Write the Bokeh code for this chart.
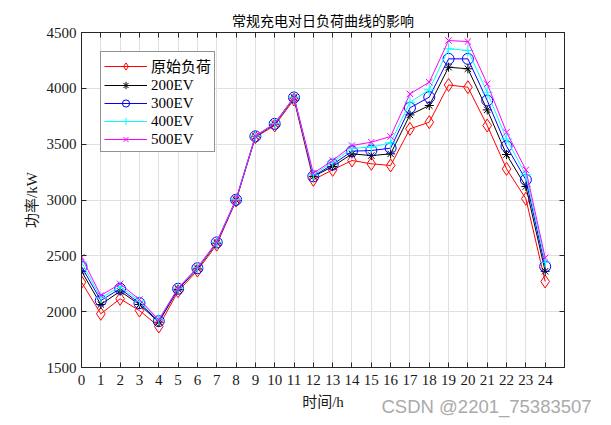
from bokeh.plotting import figure
from bokeh.models import Range1d, FixedTicker, LinearAxis, Legend, Title
from bokeh.embed import file_html
from bokeh.resources import INLINE

hours = list(range(25))
x_ticks = list(range(25))
y_ticks = [1500, 2000, 2500, 3000, 3500, 4000, 4500]

load_orig = [2264, 1981, 2115, 2010, 1867, 2183, 2368, 2600, 2995, 3562, 3667, 3900,
             3181, 3270, 3354, 3324, 3309, 3637, 3697, 4030, 4010, 3667, 3279, 3011, 2270]
load_200 = [2362, 2064, 2183, 2064, 1906, 2200, 2385, 2615, 3000, 3568, 3680, 3915,
            3210, 3300, 3413, 3398, 3413, 3762, 3846, 4189, 4175, 3807, 3407, 3121, 2362]
load_300 = [2404, 2100, 2205, 2076, 1915, 2205, 2389, 2620, 3002, 3570, 3682, 3918,
            3212, 3318, 3437, 3443, 3464, 3825, 3921, 4264, 4264, 3891, 3482, 3181, 2404]
load_400 = [2443, 2124, 2225, 2094, 1927, 2210, 2392, 2622, 3004, 3572, 3684, 3920,
            3225, 3339, 3464, 3473, 3512, 3876, 3987, 4354, 4339, 3965, 3547, 3226, 2443]
load_500 = [2488, 2145, 2249, 2109, 1927, 2212, 2395, 2625, 3006, 3573, 3686, 3922,
            3240, 3354, 3488, 3518, 3569, 3950, 4055, 4428, 4419, 4040, 3607, 3270, 2482]

series_names = ["原始负荷", "200EV", "300EV", "400EV", "500EV"]
series_data = [load_orig, load_200, load_300, load_400, load_500]
colors = ["#ff0000", "#000000", "#0000ff", "#00ffff", "#ff00ff"]
markers = ["diamond", "asterisk", "circle", "cross", "x"]
msizes = [13, 9, 11, 11, 9]

SERIF = "'Liberation Serif', 'Noto Sans CJK SC'"
AX = "#262626"

p = figure(width=611, height=425, output_backend="svg", toolbar_location=None,
           x_range=Range1d(0, 25), y_range=Range1d(1500, 4500),
           min_border_left=81, min_border_right=47, min_border_top=32, min_border_bottom=58)

p.title.text = "常规充电对日负荷曲线的影响"
p.title.text_font = "'Noto Sans CJK SC'"
p.title.text_font_size = "14px"
p.title.text_font_style = "normal"
p.title.align = "center"
p.title.text_color = "#000000"
p.title.offset = 0
p.title.standoff = 6

p.outline_line_color = AX
p.outline_line_width = 1
p.background_fill_color = "white"
p.border_fill_color = "white"

for ax in (p.xaxis[0], p.yaxis[0]):
    ax.axis_line_color = AX
    ax.major_tick_line_color = AX
    ax.major_tick_in = 5
    ax.major_tick_out = 0
    ax.minor_tick_line_color = None
    ax.major_label_text_font = SERIF
    ax.major_label_text_font_size = "15px"
    ax.major_label_text_color = "#1a1a1a"
    ax.axis_label_text_font = SERIF
    ax.axis_label_text_font_size = "15px"
    ax.axis_label_text_font_style = "normal"
    ax.axis_label_text_color = "#1a1a1a"

p.xaxis[0].ticker = FixedTicker(ticks=x_ticks)
p.yaxis[0].ticker = FixedTicker(ticks=y_ticks)
p.xaxis[0].axis_label = "时间/h"
p.yaxis[0].axis_label = "功率/kW"
p.xaxis[0].major_label_standoff = 7
p.yaxis[0].major_label_standoff = 5
p.xaxis[0].axis_label_standoff = 6
p.yaxis[0].axis_label_standoff = 4

# mirrored axes (ticks only)
top = LinearAxis(ticker=FixedTicker(ticks=x_ticks), major_label_text_font_size="0px",
                 axis_line_color=AX, major_tick_line_color=AX, major_tick_in=5,
                 major_tick_out=0, minor_tick_line_color=None, major_label_standoff=0)
right = LinearAxis(ticker=FixedTicker(ticks=y_ticks), major_label_text_font_size="0px",
                   axis_line_color=AX, major_tick_line_color=AX, major_tick_in=5,
                   major_tick_out=0, minor_tick_line_color=None, major_label_standoff=0)
p.add_layout(top, "above")
p.add_layout(right, "right")

p.xgrid.ticker = FixedTicker(ticks=x_ticks)
p.ygrid.ticker = FixedTicker(ticks=y_ticks)
p.xgrid.grid_line_color = "#e0e0e0"
p.ygrid.grid_line_color = "#e0e0e0"

legend_items = []
for name, data, c, m, s in zip(series_names, series_data, colors, markers, msizes):
    r1 = p.line(hours, data, line_color=c, line_width=1)
    r2 = p.scatter(hours, data, marker=m, size=s, line_color=c, fill_color=None, line_width=1)
    legend_items.append((name, [r1, r2]))

leg = Legend(items=legend_items, location="top_left")
leg.margin = 19
leg.padding = 3
leg.spacing = 0
leg.glyph_width = 43
leg.glyph_height = 18
leg.label_height = 18
leg.label_standoff = 4
leg.label_text_font = SERIF
leg.label_text_font_size = "15px"
leg.label_text_color = "#000000"
leg.border_line_color = AX
leg.border_line_width = 1
leg.background_fill_color = "white"
leg.background_fill_alpha = 1
p.add_layout(leg)

wm = Title(text="CSDN @2201_75383507", align="left", vertical_align="top", offset=300,
           standoff=-33, text_font="'Liberation Sans'", text_font_size="18.5px",
           text_font_style="normal", text_color="#aaaaaa")
p.add_layout(wm, "below")

open("out.html", "w").write(file_html(p, INLINE))
